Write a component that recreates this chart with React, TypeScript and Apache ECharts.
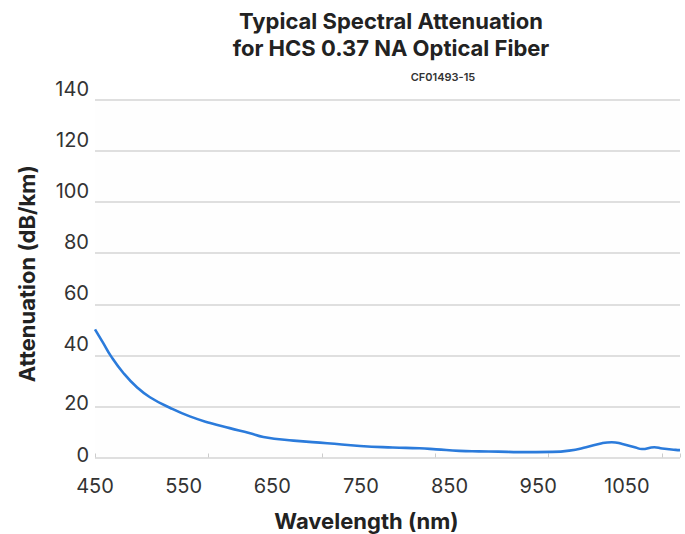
import React, { useEffect, useRef } from "react";
import * as echarts from "echarts";

const titleLines = ["Typical Spectral Attenuation", "for HCS 0.37 NA Optical Fiber"];
const codeLabel = "CF01493-15";
const xName = "Wavelength (nm)";
const yName = "Attenuation (dB/km)";

const wavelengths = [450, 459, 468, 482, 497, 512, 535, 557, 580, 602, 625, 640, 674, 712, 749, 786, 816, 835, 861, 883, 905, 929, 966, 985, 1004, 1022, 1033, 1045, 1060, 1067, 1081, 1090, 1105, 1110];
const attenuation = [50.2, 45, 39.7, 33.1, 27.6, 23.6, 19.4, 16.1, 13.5, 11.5, 9.5, 8.0, 6.6, 5.6, 4.5, 3.9, 3.6, 3.2, 2.6, 2.4, 2.3, 2.1, 2.2, 2.7, 4.0, 5.6, 6.0, 5.3, 3.9, 3.3, 4.0, 3.5, 3.0, 2.9];

const xMin = 450;
const xMax = 1110;
const xInterval = 100;
const yMin = 0;
const yMax = 140;
const yInterval = 20;

const FONT = "Inter, sans-serif";

export default function App() {
  const ref = useRef<HTMLDivElement>(null);
  useEffect(() => {
    if (!ref.current) return;
    const chart = echarts.init(ref.current, null, { renderer: "svg" });
    const data = wavelengths.map((w, i) => [w, attenuation[i]]);
    chart.setOption({
      animation: false,
      backgroundColor: "#ffffff",
      textStyle: { fontFamily: FONT },
      grid: {
        left: 95,
        right: 5,
        top: 100,
        bottom: 76.5,
        containLabel: false,
        outerBoundsMode: "none",
        show: true,
        backgroundColor: "#fefefe",
        borderWidth: 0,
      },
      graphic: [
        {
          type: "text",
          x: 391,
          y: 7,
          style: {
            text: titleLines.join("\n"),
            textAlign: "center",
            fontFamily: FONT,
            fontSize: 22,
            fontWeight: "bold",
            lineHeight: 27,
            fill: "#222222",
          },
        },
        {
          type: "text",
          x: 443,
          y: 71,
          style: {
            text: codeLabel,
            textAlign: "center",
            fontFamily: FONT,
            fontSize: 11,
            fontWeight: 600,
            fill: "#333333",
          },
        },
      ],
      xAxis: [
        {
          type: "value",
          min: xMin,
          max: xMax,
          interval: xInterval,
          name: xName,
          nameLocation: "middle",
          nameGap: 52,
          nameTextStyle: { fontFamily: FONT, fontSize: 22, fontWeight: "bold", color: "#222222", padding: [0, 42, 0, 0] },
          axisLine: { show: false },
          axisTick: { show: false },
          splitLine: { show: false },
          axisLabel: {
            fontFamily: FONT,
            fontSize: 20,
            color: "#333333",
            margin: 18,
            showMaxLabel: false,
            formatter: (v: number) => String(v),
          },
        },
        {
          type: "value",
          min: 0,
          max: 5.159,
          interval: 1,
          position: "bottom",
          axisLine: { show: false },
          axisLabel: { show: false },
          splitLine: { show: false },
          axisTick: { show: true, inside: true, length: 4, lineStyle: { color: "#cccccc", width: 1 } },
        },
      ],
      yAxis: {
        type: "value",
        min: yMin,
        max: yMax,
        interval: yInterval,
        name: yName,
        nameLocation: "middle",
        nameGap: 57,
        nameTextStyle: { fontFamily: FONT, fontSize: 22, fontWeight: "bold", color: "#222222", padding: [0, 0, 0, 10] },
        axisLine: { show: false },
        axisTick: { show: false },
        splitLine: { show: true, lineStyle: { color: "#d4d4d4", width: 1.5 } },
        axisLabel: {
          fontFamily: FONT,
          fontSize: 20,
          color: "#333333",
          margin: 6,
          formatter: (v: number) => (v >= 40 ? `{u|${v}}` : `{l|${v}}`),
          rich: {
            u: { fontFamily: FONT, fontSize: 20, color: "#333333", padding: [0, 0, 22, 0] },
            l: { fontFamily: FONT, fontSize: 20, color: "#333333", padding: [0, 0, 6, 0] },
          },
        },
      },
      series: [
        {
          type: "line",
          xAxisIndex: 0,
          data,
          smooth: 0.5,
          showSymbol: false,
          lineStyle: { color: "#2b7bdb", width: 2.6 },
        },
      ],
    });
    return () => chart.dispose();
  }, []);
  return <div ref={ref} style={{ position: "fixed", left: 0, top: 0, width: 685, height: 534 }} />;
}
